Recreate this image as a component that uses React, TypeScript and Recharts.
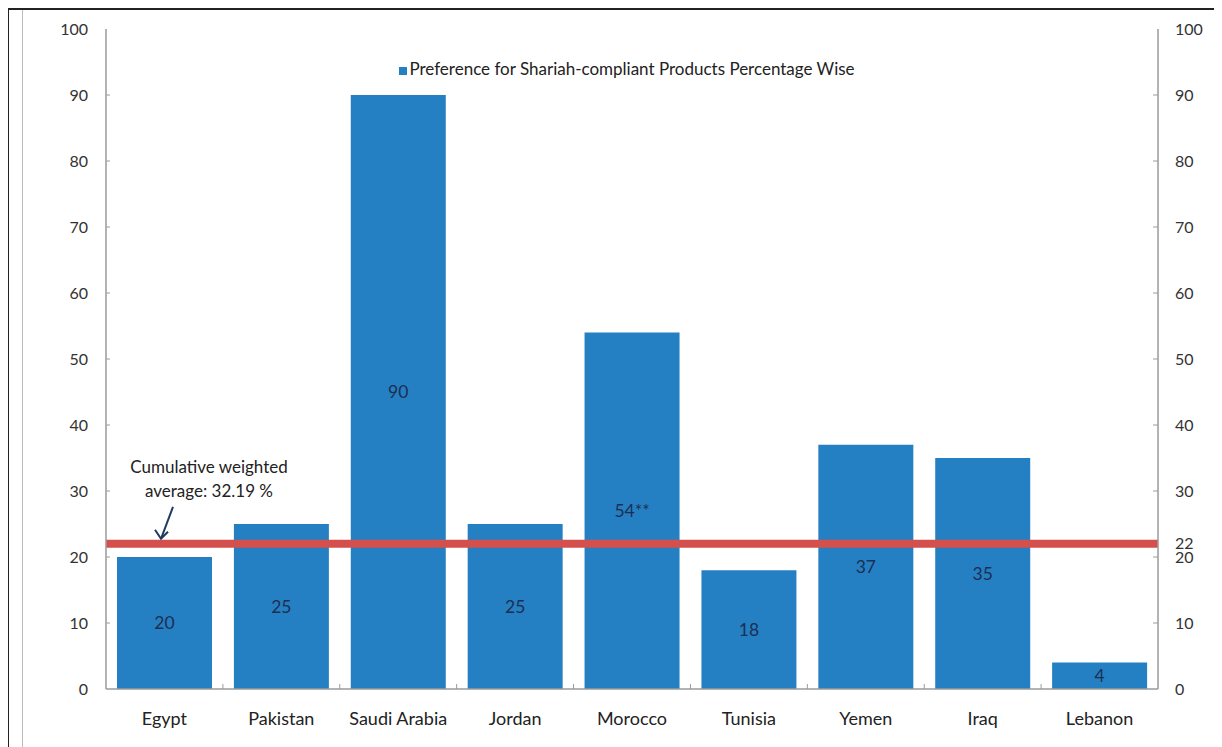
import React from "react"
import {
  Bar,
  BarChart,
  LabelList,
  Legend,
  ReferenceLine,
  XAxis,
  YAxis,
} from "recharts"

const categories = [
  "Egypt",
  "Pakistan",
  "Saudi Arabia",
  "Jordan",
  "Morocco",
  "Tunisia",
  "Yemen",
  "Iraq",
  "Lebanon",
]
const preference = [20, 25, 90, 25, 54, 18, 37, 35, 4]
const valueLabels = ["20", "25", "90", "25", "54**", "18", "37", "35", "4"]
const leftTicks = [0, 10, 20, 30, 40, 50, 60, 70, 80, 90, 100]
const rightTicks = [0, 10, 20, 22, 30, 40, 50, 60, 70, 80, 90, 100]
const averageLevel = 22
const seriesName = "Preference for Shariah-compliant Products Percentage Wise"

const data = categories.map((country, i) => ({
  country,
  value: preference[i],
  label: valueLabels[i],
}))

const WIDTH = 1214
const HEIGHT = 739
const MARGIN = { top: 21, right: 14, bottom: 18, left: 0 }
const LEFT_AXIS_W = 98
const RIGHT_AXIS_W = 50
const PLOT_W = WIDTH - MARGIN.left - MARGIN.right - LEFT_AXIS_W - RIGHT_AXIS_W
const BAND = PLOT_W / categories.length

const FONT = "Lato, 'Open Sans', sans-serif"
const BAR_COLOR = "#2580c3"
const AXIS_COLOR = "#9a9a9a"
const TEXT_COLOR = "#333"

const LeftTick = (props: any) => {
  const { x, y, payload } = props
  return (
    <g>
      {payload.value !== 0 && payload.value !== 100 && (
        <line x1={x + 18} x2={x + 22} y1={y} y2={y} stroke={AXIS_COLOR} />
      )}
      <text x={x} y={y} dy={5.5} textAnchor="end" fontSize={16} fill={TEXT_COLOR} fontFamily={FONT}>
        {payload.value}
      </text>
    </g>
  )
}

const RightTick = (props: any) => {
  const { x, y, payload } = props
  const showMark = payload.value % 10 === 0 && payload.value !== 0 && payload.value !== 100
  return (
    <g>
      {showMark && <line x1={x - 22} x2={x - 17} y1={y} y2={y} stroke={AXIS_COLOR} />}
      <text x={x} y={y} dy={5.5} textAnchor="start" fontSize={16} fill={TEXT_COLOR} fontFamily={FONT}>
        {payload.value}
      </text>
    </g>
  )
}

const CategoryTick = (props: any) => {
  const { x, y, payload, index } = props
  const axisY = y - 24
  return (
    <g>
      {index < categories.length - 1 && (
        <line
          x1={x + BAND / 2}
          x2={x + BAND / 2}
          y1={axisY - 5}
          y2={axisY}
          stroke={AXIS_COLOR}
        />
      )}
      <text x={x} y={y} dy={12} textAnchor="middle" fontSize={18} fill="#222" fontFamily={FONT}>
        {payload.value}
      </text>
    </g>
  )
}

// note + arrow pointing at the red average line
const AverageNote = (props: any) => {
  const { viewBox } = props
  if (!viewBox) return null
  const cx = viewBox.x + 103
  const y = viewBox.y
  const tipX = viewBox.x + 55
  const tipY = y - 5
  return (
    <g fontFamily={FONT} fontSize={17} fill="#222">
      <text x={cx} y={y - 71} textAnchor="middle">
        Cumulative weighted
      </text>
      <text x={cx} y={y - 47} textAnchor="middle">
        average: 32.19 %
      </text>
      <line x1={viewBox.x + 67} y1={y - 37} x2={tipX} y2={tipY} stroke="#1f3a5f" strokeWidth={2} />
      <path
        d={`M ${tipX - 6} ${tipY - 9} L ${tipX} ${tipY} L ${tipX + 7} ${tipY - 7}`}
        fill="none"
        stroke="#1f3a5f"
        strokeWidth={2}
      />
    </g>
  )
}

export default function App() {
  return (
    <div style={{ position: "relative", width: WIDTH, height: HEIGHT }}>
      <div
        style={{
          position: "absolute",
          left: -1,
          top: 0,
          width: 1208,
          height: HEIGHT,
          borderTop: "2px solid #222",
          borderLeft: "2px solid #222",
        }}
      />
      <div
        style={{ position: "absolute", left: 14, top: 2, width: 1, height: HEIGHT - 2, background: "#bbb" }}
      />
      <div
        style={{ position: "absolute", left: 1209, top: 2, width: 2, height: HEIGHT - 2, background: "#bbb" }}
      />
      <BarChart
        width={WIDTH}
        height={HEIGHT}
        data={data}
        margin={MARGIN}
        barCategoryGap={11}
        style={{ position: "absolute", left: 0, top: 0 }}
      >
        <XAxis
          dataKey="country"
          interval={0}
          height={40}
          tickSize={0}
          tickMargin={24}
          tickLine={false}
          axisLine={{ stroke: AXIS_COLOR, strokeWidth: 1.5 }}
          tick={<CategoryTick />}
        />
        <XAxis
          xAxisId="top"
          dataKey="country"
          orientation="top"
          height={0}
          tick={false}
          tickLine={false}
          axisLine={{ stroke: AXIS_COLOR, strokeWidth: 1.5 }}
        />
        <YAxis
          yAxisId="left"
          width={LEFT_AXIS_W}
          domain={[0, 100]}
          ticks={leftTicks}
          interval={0}
          tickSize={0}
          tickMargin={18}
          tickLine={false}
          axisLine={{ stroke: AXIS_COLOR, strokeWidth: 1.5 }}
          tick={<LeftTick />}
        />
        <YAxis
          yAxisId="right"
          orientation="right"
          type="number"
          width={RIGHT_AXIS_W}
          domain={[0, 100]}
          allowDataOverflow
          ticks={rightTicks}
          interval={0}
          tickSize={0}
          tickMargin={17}
          tickLine={false}
          axisLine={{ stroke: AXIS_COLOR, strokeWidth: 1.5 }}
          tick={<RightTick />}
        />
        <Legend
          verticalAlign="middle"
          iconType="square"
          iconSize={8}
          wrapperStyle={{ top: 50, left: MARGIN.left + LEFT_AXIS_W, width: PLOT_W, fontFamily: FONT, fontSize: 17 }}
          formatter={(value: string) => <span style={{ color: "#222", marginLeft: -2 }}>{value}</span>}
        />
        <Bar
          yAxisId="left"
          dataKey="value"
          name={seriesName}
          fill={BAR_COLOR}
          isAnimationActive={false}
        >
          <LabelList
            dataKey="label"
            position="center"
            fill="#1c2f52"
            fontSize={17.5}
            fontFamily={FONT}
          />
        </Bar>
        <ReferenceLine
          yAxisId="left"
          y={averageLevel}
          stroke="#d4504c"
          strokeWidth={8}
          label={<AverageNote />}
        />
      </BarChart>
    </div>
  )
}
